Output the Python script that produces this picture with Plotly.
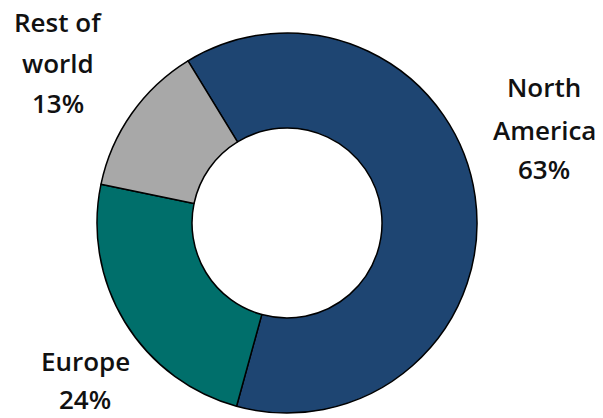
import plotly.graph_objects as go

regions = ["North America", "Europe", "Rest of world"]
shares = [63, 24, 13]
colors = ["#1e4572", "#006f6b", "#a8a8a8"]

# label lines per region
label_lines = {
    "North America": ["North", "America", "63%"],
    "Europe": ["Europe", "24%"],
    "Rest of world": ["Rest of", "world", "13%"],
}
label_pos = {
    "North America": (544, [87, 130, 169]),
    "Europe": (85, [361, 399]),
    "Rest of world": (58, [22, 63, 103]),
}

W, H = 603, 418

fig = go.Figure()
fig.add_trace(go.Pie(
    labels=regions,
    values=shares,
    hole=0.5,
    sort=False,
    direction="clockwise",
    rotation=-31.4,
    marker=dict(colors=colors, line=dict(color="black", width=1.5)),
    textinfo="none",
    hoverinfo="label+percent",
    showlegend=False,
    domain=dict(x=[97 / W, 477 / W], y=[1 - 413 / H, 1 - 33 / H]),
))

for r in regions:
    xc, ys = label_pos[r]
    for line, yc in zip(label_lines[r], ys):
        fig.add_annotation(
            x=xc / W, y=1 - yc / H, xref="paper", yref="paper",
            text=line, showarrow=False, xanchor="center", yanchor="middle",
            font=dict(family="Open Sans", size=26, color="#111111", weight=600),
        )

fig.update_layout(
    width=W, height=H,
    margin=dict(l=0, r=0, t=0, b=0),
    paper_bgcolor="white", plot_bgcolor="white",
)
fig.write_html("out.html")
